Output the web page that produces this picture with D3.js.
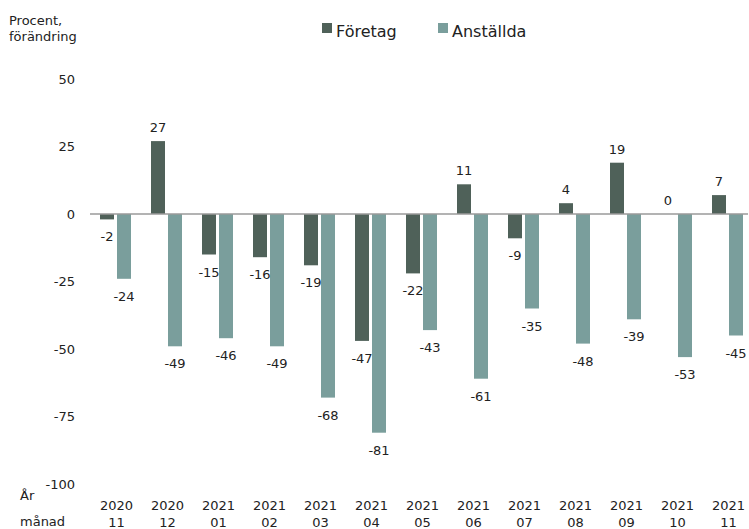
<!DOCTYPE html>
<html>
<head>
<meta charset="utf-8">
<script src="https://cdn.jsdelivr.net/npm/d3@7"></script>
<style>
  body { margin: 0; background: #fff; }
  text { font-family: "DejaVu Sans", Tahoma, sans-serif; fill: #222; }
</style>
</head>
<body>
<div id="chart"></div>
<script>
var width = 749;
var height = 529;

// data
var years = ["2020","2020","2021","2021","2021","2021","2021","2021","2021","2021","2021","2021","2021"];
var months = ["11","12","01","02","03","04","05","06","07","08","09","10","11"];
var series = ["Företag","Anställda"];
var foretag = [-2,27,-15,-16,-19,-47,-22,11,-9,4,19,0,7];
var anstallda = [-24,-49,-46,-49,-68,-81,-43,-61,-35,-48,-39,-53,-45];
var yTicks = [50,25,0,-25,-50,-75,-100];
var colors = ["#4f6159","#7a9e9c"];

var keys = years.map(function(y, i) { return y + "-" + months[i]; });

var svg = d3.select("#chart").append("svg")
  .attr("width", width)
  .attr("height", height);

var x0 = d3.scaleBand()
  .domain(keys)
  .range([90, 753]);

var x1 = d3.scaleBand()
  .domain(series)
  .range([10, 41])
  .paddingInner(3/17);

var y = d3.scaleLinear()
  .domain([-100, 50])
  .range([484, 79]);

var color = d3.scaleOrdinal().domain(series).range(colors);

// y tick labels, no axis line
svg.append("g").selectAll("text")
  .data(yTicks)
  .enter().append("text")
  .attr("x", 75)
  .attr("y", function(d) { return y(d); })
  .attr("dy", "0.38em")
  .style("font-size", "13px")
  .style("text-anchor", "end")
  .text(function(d) { return d; });

// unit label top left
svg.append("text").attr("x", 9).attr("y", 25).style("font-size", "13px").text("Procent,");
svg.append("text").attr("x", 9).attr("y", 41).style("font-size", "13px").text("förändring");

// bars
var values = [foretag, anstallda];
var groups = svg.append("g").selectAll("g")
  .data(keys)
  .enter().append("g")
  .attr("transform", function(d) { return "translate(" + x0(d) + ",0)"; });

groups.selectAll("rect")
  .data(function(d, i) { return series.map(function(s, j) { return {s: s, v: values[j][i]}; }); })
  .enter().append("rect")
  .attr("x", function(d) { return x1(d.s); })
  .attr("width", x1.bandwidth())
  .attr("y", function(d) { return y(Math.max(0, d.v)); })
  .attr("height", function(d) { return Math.abs(y(d.v) - y(0)); })
  .attr("fill", function(d) { return color(d.s); });

// value labels
groups.selectAll("text.val")
  .data(function(d, i) { return series.map(function(s, j) { return {s: s, v: values[j][i]}; }); })
  .enter().append("text")
  .attr("class", "val")
  .attr("x", function(d) { return x1(d.s) + x1.bandwidth() / 2; })
  .attr("y", function(d) { return d.v >= 0 ? y(d.v) - 9 : y(d.v) + 22; })
  .style("font-size", "13px")
  .style("text-anchor", "middle")
  .text(function(d) { return d.v; });

// zero line
svg.append("line")
  .attr("x1", 90)
  .attr("x2", 748)
  .attr("y1", y(0))
  .attr("y2", y(0))
  .attr("stroke", "#9a9a9a")
  .attr("stroke-width", 1.5);

// x labels (two lines)
var xl = svg.append("g").selectAll("text")
  .data(keys)
  .enter().append("text")
  .attr("x", function(d) { return x0(d) + x0.bandwidth() / 2 + 1; })
  .style("font-size", "13px")
  .style("text-anchor", "middle");
xl.append("tspan").attr("y", 510).text(function(d, i) { return years[i]; });
xl.append("tspan").attr("x", function(d) { return x0(d) + x0.bandwidth() / 2 + 1; })
  .attr("y", 527).text(function(d, i) { return months[i]; });

svg.append("text").attr("x", 20).attr("y", 500).style("font-size", "13px").text("År");
svg.append("text").attr("x", 20).attr("y", 526).style("font-size", "13px").text("månad");

// legend
var legX = [322, 438];
series.forEach(function(s, i) {
  svg.append("rect")
    .attr("x", legX[i])
    .attr("y", 23)
    .attr("width", 10)
    .attr("height", 10)
    .attr("fill", color(s));
  svg.append("text")
    .attr("x", legX[i] + 14)
    .attr("y", 37)
    .style("font-size", "16px")
    .text(s);
});
</script>
</body>
</html>
